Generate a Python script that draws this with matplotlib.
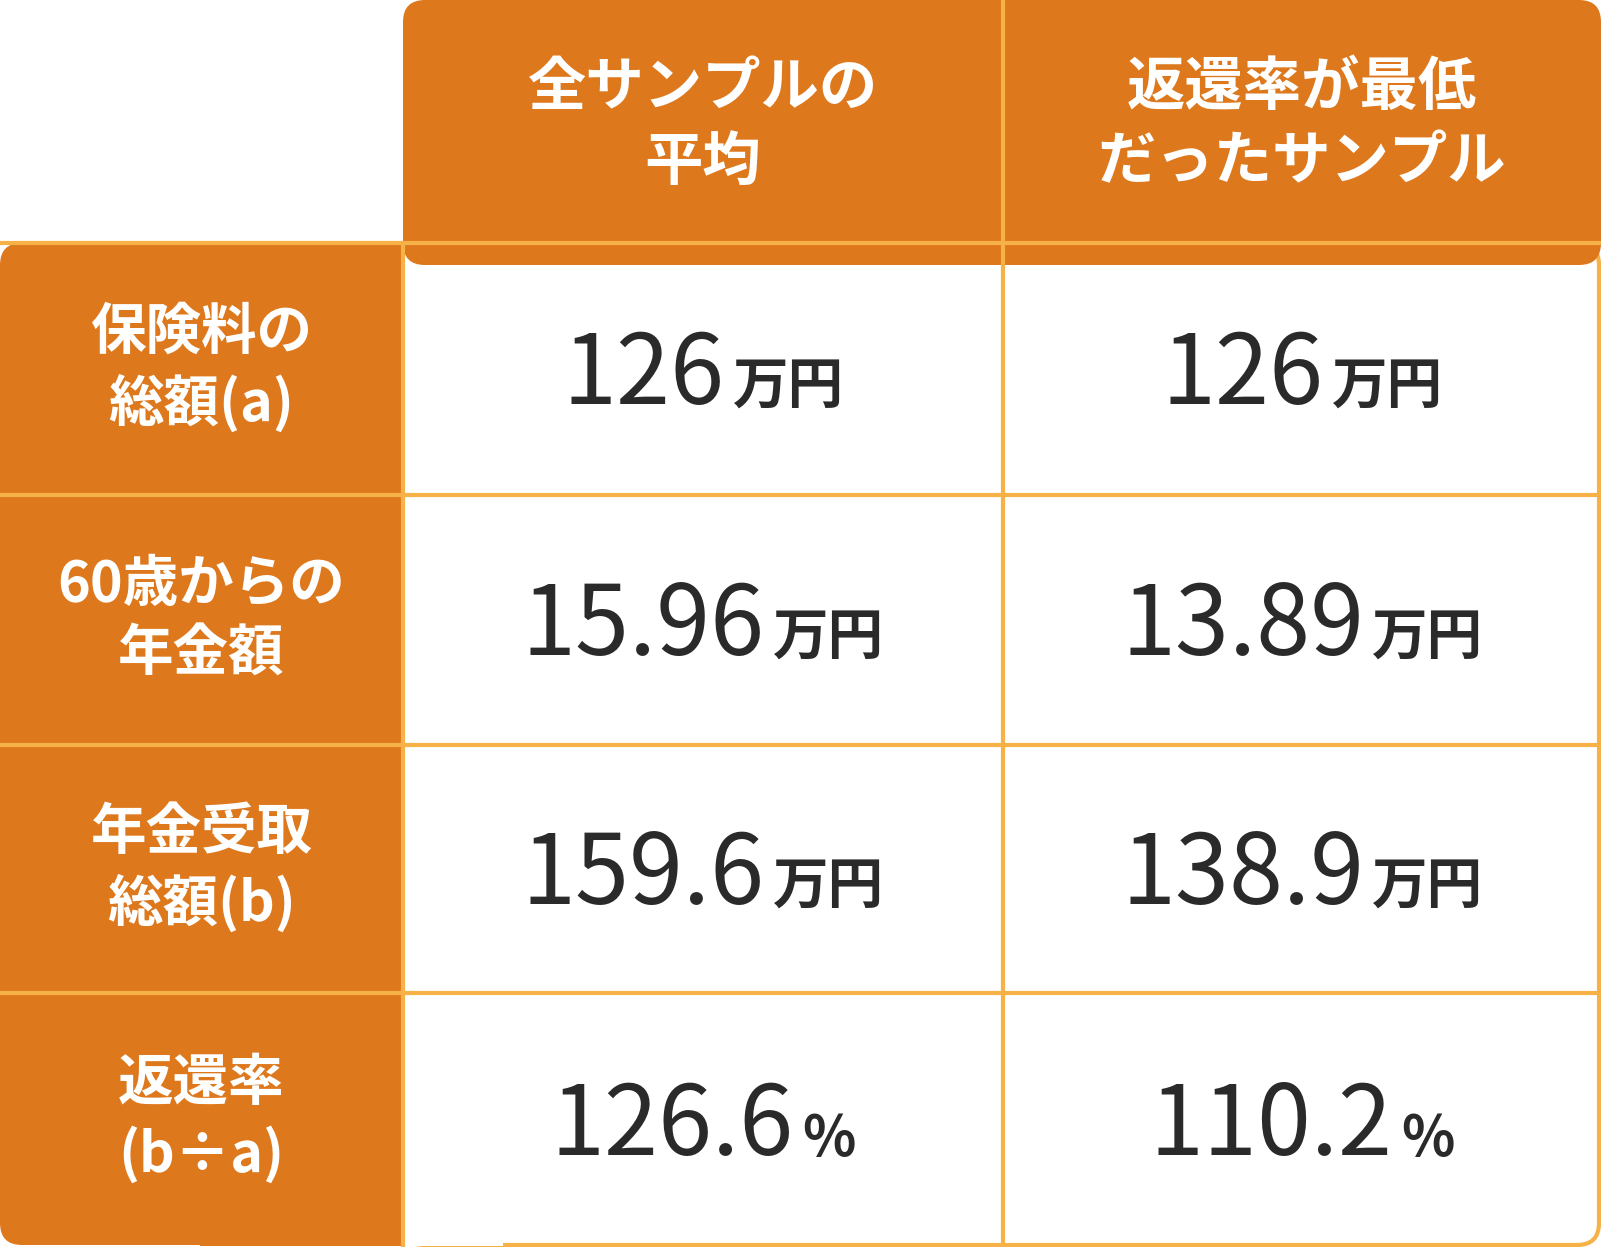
import matplotlib.pyplot as plt
from matplotlib.patches import FancyBboxPatch, Rectangle

col_headers = ["全サンプルの\n平均", "返還率が最低\nだったサンプル"]
row_labels = ["保険料の\n総額(a)", "60歳からの\n年金額", "年金受取\n総額(b)", "返還率\n(b÷a)"]
avg_values = ["126", "15.96", "159.6", "126.6"]
min_values = ["126", "13.89", "138.9", "110.2"]
units = ["万円", "万円", "万円", "%"]

ORANGE = "#DE781C"
LINE = "#F7B247"
DARK = "#2a2a2a"
FONT = "Noto Sans CJK JP"

W, H = 1601, 1247
xs = [0, 403, 1003, 1601]
ys = [0, 243, 495, 745, 993, 1247]

fig = plt.figure(figsize=(W / 100, H / 100), dpi=100)
ax = fig.add_axes([0, 0, 1, 1])
ax.set_xlim(0, W)
ax.set_ylim(H, 0)
ax.axis("off")

r = 22
# body
ax.add_patch(FancyBboxPatch((xs[1] + r, ys[1] + r), W - xs[1] - 2 * r - 2, H - ys[1] - 2 * r - 2,
                            boxstyle=f"round,pad={r}", fc="white", ec=LINE, lw=3))
ax.add_patch(Rectangle((xs[1], ys[1]), 100, H - ys[1] - 1, fc="white", ec="none"))
# header
ax.add_patch(FancyBboxPatch((xs[1] + r, r), W - xs[1] - 2 * r, ys[1] - r, boxstyle=f"round,pad={r}",
                            fc=ORANGE, ec="none"))
ax.add_patch(Rectangle((xs[1], 150), W - xs[1], ys[1] - 150, fc=ORANGE, ec="none"))
# left column
ax.add_patch(FancyBboxPatch((r, ys[1] + r), xs[1] - 2 * r, H - ys[1] - 2 * r - 2,
                            boxstyle=f"round,pad={r}", fc=ORANGE, ec="none"))
ax.add_patch(Rectangle((200, ys[1]), xs[1] - 200, H - ys[1] - 1, fc=ORANGE, ec="none"))

# grid lines
for y in ys[1:-1]:
    ax.plot([0, W - 2], [y, y], color=LINE, lw=3)
ax.plot([xs[2], xs[2]], [0, H - 2], color=LINE, lw=3)
ax.plot([xs[1], xs[1]], [ys[1], H - 2], color=LINE, lw=3)

for i, t in enumerate(col_headers):
    ax.text((xs[i + 1] + xs[i + 2]) / 2, ys[1] / 2 + 4, t, ha="center", va="center", color="white",
            fontsize=42, fontweight="bold", family=FONT, linespacing=1.3)

for j, t in enumerate(row_labels):
    ax.text(xs[1] / 2, (ys[j + 1] + ys[j + 2]) / 2, t, ha="center", va="center", color="white",
            fontsize=40, fontweight="bold", family=FONT, linespacing=1.3)

fig.canvas.draw()
rend = fig.canvas.get_renderer()


def put_value(cx, cy, num, unit):
    t1 = ax.text(0, cy, num, ha="left", va="baseline", color=DARK, fontsize=70, family=FONT)
    t2 = ax.text(0, cy, unit, ha="left", va="baseline", color=DARK, fontsize=40,
                 family=FONT, fontweight="bold")
    w1 = t1.get_window_extent(rend).width
    w2 = t2.get_window_extent(rend).width
    gap = 8
    x0 = cx - (w1 + gap + w2) / 2
    t1.set_x(x0)
    t2.set_x(x0 + w1 + gap)


for j in range(len(row_labels)):
    cy = (ys[j + 1] + ys[j + 2]) / 2 + 35
    put_value((xs[1] + xs[2]) / 2, cy, avg_values[j], units[j])
    put_value((xs[2] + xs[3]) / 2, cy, min_values[j], units[j])

fig.savefig("out.png", dpi=100)
